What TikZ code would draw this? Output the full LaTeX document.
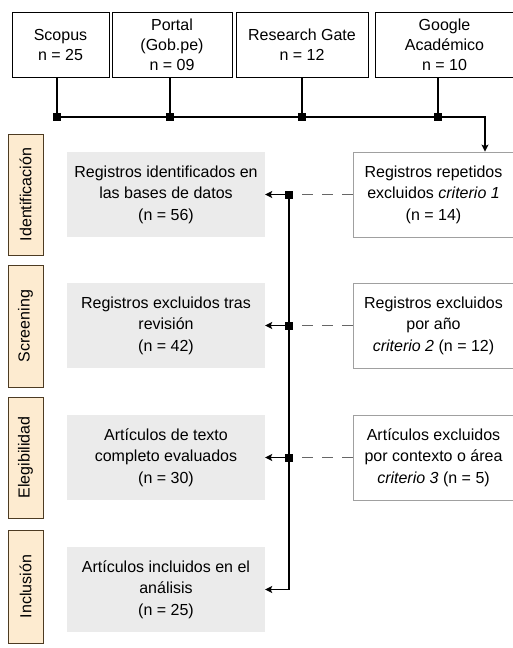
\documentclass[tikz,border=0pt]{standalone}
\usepackage{fontspec}
\setmainfont{Liberation Sans}
\usetikzlibrary{arrows.meta}

\definecolor{stagefill}{HTML}{FDEBD0}
\definecolor{stageline}{HTML}{4D3B22}
\definecolor{boxgray}{HTML}{EBEBEB}
\definecolor{framegray}{HTML}{A0A0A0}
\definecolor{dashgray}{HTML}{666666}

\tikzset{
  srcbox/.style={draw, line width=0.8pt, align=center, inner sep=0pt,
    minimum height=65pt, font=\fontsize{16}{20}\selectfont},
  stagebox/.style={draw=stageline, fill=stagefill, line width=1pt, rotate=90,
    minimum height=35pt, inner sep=0pt, font=\fontsize{16}{20}\selectfont},
  recbox/.style={fill=boxgray, align=center, minimum width=198pt,
    minimum height=85pt, inner sep=0pt, font=\fontsize{16}{21.5}\selectfont},
  exbox/.style={draw=framegray, line width=0.8pt, fill=white, align=center,
    minimum width=161pt, minimum height=85pt, inner sep=0pt,
    font=\fontsize{16}{21.5}\selectfont},
  joint/.style={fill=black, minimum size=8pt, inner sep=0pt},
  flowline/.style={line width=1.3pt},
  flowarrow/.style={line width=1.3pt, -{Stealth[length=7pt,width=7pt,inset=1.5pt]}},
  skipline/.style={draw=dashgray, line width=1.3pt, dash pattern=on 11pt off 9pt},
}

\begin{document}
\begin{tikzpicture}[x=1pt, y=-1pt]
    \useasboundingbox (0,0) rectangle (513,648);

    % bases de datos
    \node[srcbox, minimum width=97pt]  (scopus) at (60.5, 44.5) {Scopus\\n = 25};
    \node[srcbox, minimum width=120pt] (portal) at (172,  44.5) {Portal\\(Gob.pe)\\n = 09};
    \node[srcbox, minimum width=132pt] (rgate)  at (302,  44.5) {Research Gate\\n = 12};
    \node[srcbox, minimum width=139pt] (google) at (444.5,44.5) {Google\\Académico\\n = 10};

    % etapas
    \node[stagebox, minimum width=121pt] (stident) at (25.5, 194.5) {Identificación};
    \node[stagebox, minimum width=122pt] (stscr)   at (25.5, 326)   {Screening};
    \node[stagebox, minimum width=121pt] (steleg)  at (25.5, 457.5) {Elegibilidad};
    \node[stagebox, minimum width=113pt] (stinc)   at (25.5, 586.5) {Inclusión};

    % registros
    \node[recbox] (ident) at (166, 194.5) {Registros identificados en\\las bases de datos\\(n = 56)};
    \node[recbox] (scr)   at (166, 325.5) {Registros excluidos tras\\revisión\\(n = 42)};
    \node[recbox] (eleg)  at (166, 457.5) {Artículos de texto\\completo evaluados\\(n = 30)};
    \node[recbox] (inc)   at (166, 589.5) {Artículos incluidos en el\\análisis\\(n = 25)};

    % exclusiones
    \node[exbox] (ex1) at (433.5, 194.5) {Registros repetidos\\excluidos \textit{criterio 1}\\(n = 14)};
    \node[exbox] (ex2) at (433.5, 325.5) {Registros excluidos\\por año\\\textit{criterio 2} (n = 12)};
    \node[exbox] (ex3) at (433.5, 457.5) {Artículos excluidos\\por contexto o área\\\textit{criterio 3} (n = 5)};

    % uniones
    \node[joint] (j1) at (57,  117) {};
    \node[joint] (j2) at (170, 117) {};
    \node[joint] (j3) at (302, 117) {};
    \node[joint] (j4) at (438, 117) {};
    \coordinate (bend) at (485, 117);
    \node[joint] (k1) at (289, 194.5) {};
    \node[joint] (k2) at (289, 325.5) {};
    \node[joint] (k3) at (289, 457.5) {};

    \draw[flowline] (j1 |- scopus.south) -- (j1.center);
    \draw[flowline] (j2 |- portal.south) -- (j2.center);
    \draw[flowline] (j3 |- rgate.south)  -- (j3.center);
    \draw[flowline] (j4 |- google.south) -- (j4.center);
    \draw[flowarrow] (j1.center) -- (bend) -- (bend |- ex1.north);

    \draw[flowarrow] (k1.center) |- (inc.east);
    \draw[flowarrow] (k1.center) -- (ident.east);
    \draw[flowarrow] (k2.center) -- (scr.east);
    \draw[flowarrow] (k3.center) -- (eleg.east);

    \draw[skipline] (ex1.west) -- (k1.east);
    \draw[skipline] (ex2.west) -- (k2.east);
    \draw[skipline] (ex3.west) -- (k3.east);
\end{tikzpicture}
\end{document}
